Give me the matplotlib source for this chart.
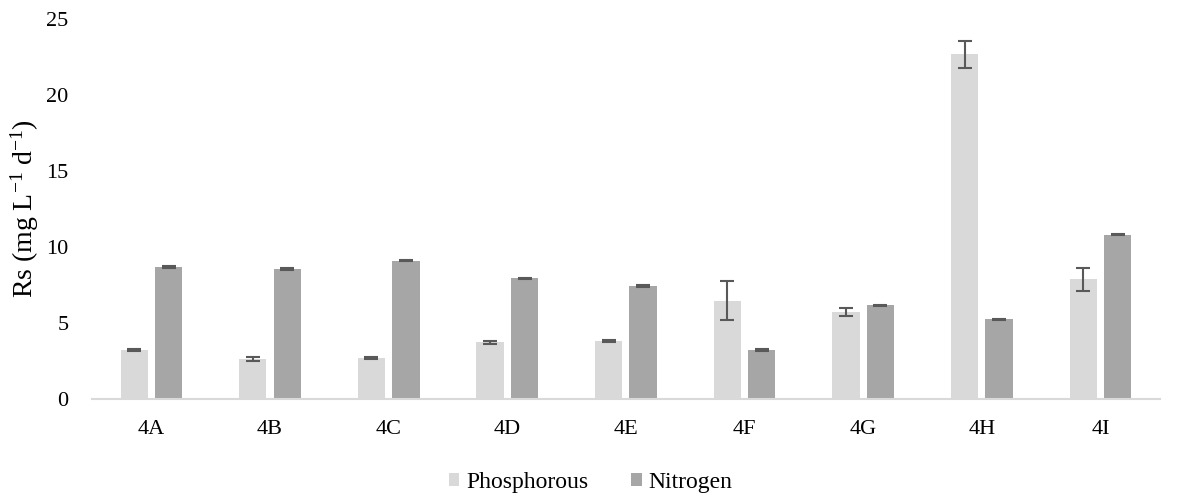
import matplotlib.pyplot as plt
import numpy as np

plt.rcParams['font.family'] = ['Liberation Serif', 'DejaVu Serif']
plt.rcParams['mathtext.fontset'] = 'custom'
plt.rcParams['mathtext.rm'] = 'Liberation Serif'
plt.rcParams['mathtext.it'] = 'Liberation Serif:italic'

categories = ['4A', '4B', '4C', '4D', '4E', '4F', '4G', '4H', '4I']
phosphorous = [3.23, 2.62, 2.70, 3.74, 3.82, 6.46, 5.75, 22.66, 7.89]
phosphorous_err = [0.05, 0.12, 0.05, 0.10, 0.06, 1.28, 0.27, 0.90, 0.76]
nitrogen = [8.68, 8.55, 9.10, 7.93, 7.45, 3.23, 6.18, 5.25, 10.81]
nitrogen_err = [0.05, 0.06, 0.05, 0.04, 0.05, 0.04, 0.03, 0.04, 0.04]

x = np.arange(len(categories))
w = 0.23
off = 0.145

fig = plt.figure(figsize=(11.81, 4.97), dpi=100)
ax = fig.add_axes([0.078, 0.197, 0.904, 0.765])

err_kw = dict(ecolor='#595959', elinewidth=1.5, capsize=5, capthick=1.5)
ax.bar(x - off, phosphorous, w, color='#D9D9D9', label='Phosphorous',
       yerr=phosphorous_err, error_kw=err_kw)
ax.bar(x + off, nitrogen, w, color='#A6A6A6', label='Nitrogen',
       yerr=nitrogen_err, error_kw=err_kw)

ax.set_xlim(-0.5, len(categories) - 0.5)
ax.set_ylim(0, 25)
ax.set_yticks([0, 5, 10, 15, 20, 25])
ax.set_xticks(x)
ax.set_xticklabels(categories)
ax.tick_params(axis='both', length=0, labelsize=16, colors='#000000')
ax.tick_params(axis='x', pad=15)
ax.tick_params(axis='y', pad=17)

ax.spines['top'].set_color('none')
ax.spines['right'].set_color('none')
ax.spines['left'].set_color('none')
ax.spines['bottom'].set_color('#D9D9D9')
ax.spines['bottom'].set_linewidth(1.5)

ax.set_ylabel(r'Rs (mg L$^{\mathrm{-1}}$ d$^{\mathrm{-1}}$)', fontsize=20, labelpad=4)

fig.legend(loc='lower center', ncol=2, frameon=False, fontsize=17,
           bbox_to_anchor=(0.5, -0.035), handlelength=0.45, handleheight=0.45,
           columnspacing=1.8, handletextpad=0.3)

fig.savefig('out.png', dpi=100)
